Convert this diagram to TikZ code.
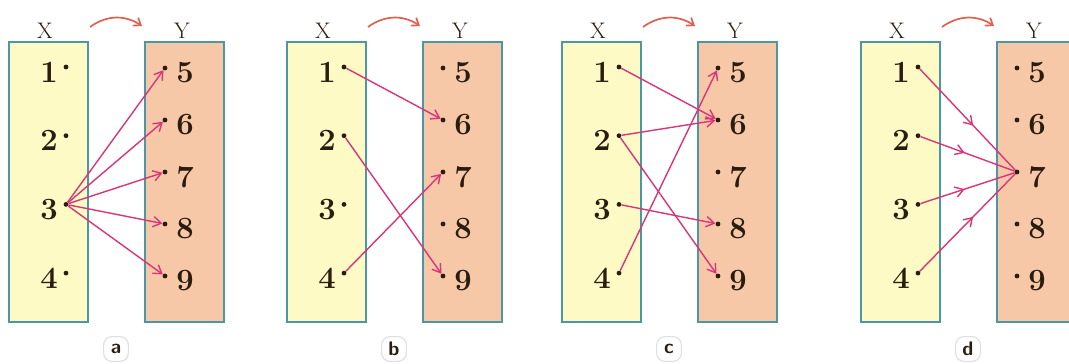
\documentclass[tikz,border=0pt]{standalone}
\usetikzlibrary{arrows.meta,decorations.markings}
\definecolor{setx}{HTML}{FDFAC6}
\definecolor{sety}{HTML}{F7C8A7}
\definecolor{frame}{HTML}{4C97A6}
\definecolor{mapline}{HTML}{D8367A}
\definecolor{bendline}{HTML}{E05F4E}
\definecolor{ink}{HTML}{2A1C0E}
\begin{document}
\begin{tikzpicture}[x=0.025cm,y=0.025cm,
		setbox/.style={draw=frame,line width=1.8pt},
		setname/.style={text=ink,inner sep=0pt,font=\fontsize{16}{18}\selectfont},
		num/.style={text=ink,inner sep=0pt,font=\fontsize{22}{24}\selectfont\bfseries},
		pt/.style={circle,fill=ink,inner sep=0pt,minimum size=3.4pt},
		tag/.style={draw=gray!25,fill=white,line width=0.8pt,rounded corners=6pt,minimum size=0.62cm,inner sep=0pt,text=ink,font=\fontsize{14}{16}\selectfont\sffamily\bfseries},
		map/.style={color=mapline,line width=1pt,-{Straight Barb[length=2mm,width=2.6mm]}},
		midmap/.style={color=mapline,line width=1pt,postaction={decorate},
			decoration={markings,mark=at position #1 with {\arrow{Straight Barb[length=2mm,width=2.6mm]}}}}]
	\useasboundingbox (0,0) rectangle (1069,363);
	\foreach \p/\dx in {a/9,b/287,c/562,d/861}{
		\begin{scope}[shift={(\dx,0)}]
			\draw[setbox,fill=setx] (0,41) rectangle (79,321);
			\draw[setbox,fill=sety] (136,41) rectangle (215,321);
			\node[setname] (\p-X) at (36,332) {X};
			\node[setname] (\p-Y) at (173,332) {Y};
			\coordinate (\p-from) at (81,336);
			\coordinate (\p-to) at (133,337);
			\draw[bendline,line width=1.2pt,-{Straight Barb[length=1.6mm,width=2.4mm]}] (\p-from) to[bend left=35] (\p-to);
			\foreach \i in {1,...,4}{
				\node[pt] (\p-x\i) at (57,{296-68.7*(\i-1)}) {};
				\node[num] (\p-n\i) at (40,{291-68.7*(\i-1)}) {\i};
			}
			\foreach \j in {5,...,9}{
				\node[pt] (\p-y\j) at (156,{295-52*(\j-5)}) {};
				\node[num] (\p-m\j) at (176,{290-52*(\j-5)}) {\j};
			}
			\node[tag] (\p-tag) at (107,14) {\p};
		\end{scope}
	}
	% a
	\foreach \j in {5,...,9}
		\draw[map] (a-x3) -- (a-y\j);
	% b
	\draw[map] (b-x1) -- (b-y6);
	\draw[map] (b-x2) -- (b-y9);
	\draw[map] (b-x4) -- (b-y7);
	% c
	\draw[map] (c-x1) -- (c-y6);
	\draw[map] (c-x2) -- (c-y6);
	\draw[map] (c-x2) -- (c-y9);
	\draw[map] (c-x3) -- (c-y8);
	\draw[map] (c-x4) -- (c-y5);
	% d
	\foreach \i/\q in {1/0.56,2/0.47,3/0.47,4/0.56}
		\draw[midmap=\q] (d-x\i) -- (d-y7);
\end{tikzpicture}
\end{document}
